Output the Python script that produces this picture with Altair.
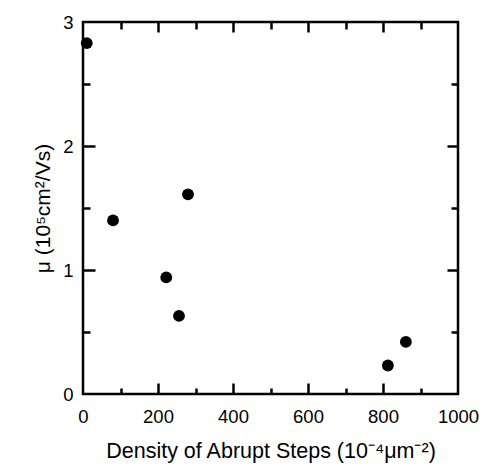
import altair as alt
import pandas as pd

# Data
density = [10, 80, 280, 222, 256, 813, 861]
mobility = [2.83, 1.40, 1.61, 0.94, 0.63, 0.23, 0.42]

x_labels = [0, 200, 400, 600, 800, 1000]
y_labels = [0, 1, 2, 3]
x_major = [200, 400, 600, 800]
x_minor = [100, 300, 500, 700, 900]
y_major = [1, 2]
y_minor = [0.5, 1.5, 2.5]

df = pd.DataFrame({"density": density, "mu": mobility})

FONT = "Liberation Sans"
xs = alt.Scale(domain=[0, 1000], nice=False, zero=False)
ys = alt.Scale(domain=[0, 3], nice=False, zero=False)


def tick_axis(orient, values, size):
    return alt.Axis(
        orient=orient, values=values, labels=False, domain=False, grid=False,
        title=None, ticks=True, tickSize=alt.ExprRef(expr=str(-size)),
        tickWidth=2.5, tickColor="black",
    )


points = alt.Chart(df).mark_circle(size=140, color="black", opacity=1).encode(
    x=alt.X("density:Q", scale=xs, axis=alt.Axis(
        orient="bottom", values=x_labels, format="d", ticks=False, domain=False,
        grid=False, labelFlush=False, labelOverlap=False, labelPadding=13,
        labelFont=FONT, labelFontSize=18.5, labelColor="black",
        title="Density of Abrupt Steps (10⁻⁴μm⁻²)", titleFont=FONT,
        titleFontSize=21.5, titleFontWeight="normal", titleColor="black",
        titlePadding=15)),
    y=alt.Y("mu:Q", scale=ys, axis=alt.Axis(
        orient="left", values=y_labels, format="d", ticks=False, domain=False,
        grid=False, labelFlush=False, labelOverlap=False, labelPadding=10,
        labelFont=FONT, labelFontSize=18.5, labelColor="black",
        title="μ (10⁵cm²/Vs)", titleFont=FONT, titleFontSize=21,
        titleFontWeight="normal", titleColor="black", titlePadding=9)),
)


def ticks_layer(xaxis, yaxis):
    return alt.Chart(df).mark_point(opacity=0).encode(
        x=alt.X("density:Q", scale=xs, axis=xaxis),
        y=alt.Y("mu:Q", scale=ys, axis=yaxis),
    )


l2 = ticks_layer(tick_axis("bottom", x_major, 11), tick_axis("left", y_major, 12))
l3 = ticks_layer(tick_axis("bottom", x_minor, 6), tick_axis("left", y_minor, 7))
l4 = ticks_layer(tick_axis("top", x_major, 10), tick_axis("right", y_major, 11))
l5 = ticks_layer(tick_axis("top", x_minor, 7), tick_axis("right", y_minor, 7))

chart = alt.layer(points, l2, l3, l4, l5).resolve_axis(
    x="independent", y="independent"
).properties(
    width=375, height=372,
    autosize=alt.AutoSizeParams(type="none"),
    padding={"left": 75, "top": 14, "right": 21, "bottom": 70},
    background="white",
).configure_view(stroke="black", strokeWidth=2.5)

chart.save("out.html", embed_options={"renderer": "svg", "actions": False})
